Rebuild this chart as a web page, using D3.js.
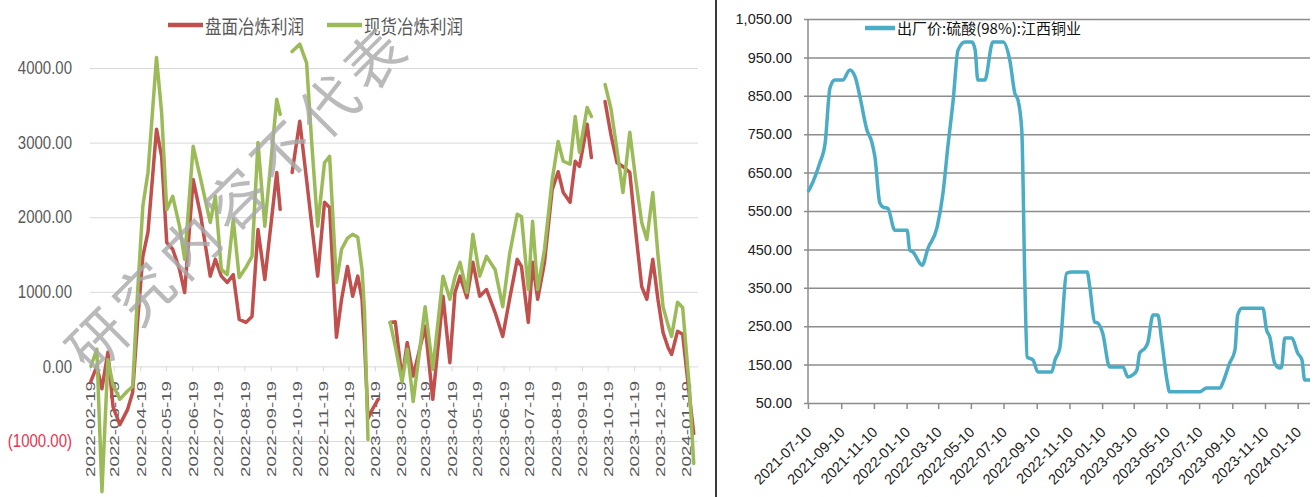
<!DOCTYPE html>
<html><head><meta charset="utf-8">
<script src="https://cdn.jsdelivr.net/npm/d3@7"></script>
<style>html,body{margin:0;padding:0;background:#fff;overflow:hidden}svg{display:block}</style>
</head><body><svg id="c" width="1314" height="497"></svg>
<script>
// ---------- Left chart data: smelting profit ----------
const profitDates = ["2022-02-20","2022-02-27","2022-03-05","2022-03-12","2022-03-18","2022-03-26","2022-04-04","2022-04-10","2022-04-16","2022-04-22","2022-04-28","2022-05-08","2022-05-14","2022-05-20","2022-05-27","2022-06-04","2022-06-10","2022-06-20","2022-06-29","2022-07-10","2022-07-16","2022-07-23","2022-07-30","2022-08-06","2022-08-13","2022-08-21","2022-08-28","2022-09-04","2022-09-12","2022-09-26","2022-09-30","2022-10-07","2022-10-14","2022-10-23","2022-10-31","2022-11-06","2022-11-13","2022-11-21","2022-11-27","2022-12-05","2022-12-11","2022-12-18","2022-12-24","2022-12-30","2023-01-04","2023-01-07","2023-01-11","2023-01-16","2023-01-23","2023-01-30","2023-02-06","2023-02-12","2023-02-20","2023-02-26","2023-03-05","2023-03-19","2023-03-28","2023-04-09","2023-04-17","2023-04-23","2023-04-29","2023-05-07","2023-05-14","2023-05-22","2023-05-30","2023-06-09","2023-06-18","2023-06-26","2023-07-05","2023-07-10","2023-07-18","2023-07-23","2023-07-29","2023-08-06","2023-08-15","2023-08-22","2023-08-28","2023-09-05","2023-09-11","2023-09-16","2023-09-25","2023-09-30","2023-10-08","2023-10-16","2023-10-23","2023-10-30","2023-11-06","2023-11-14","2023-11-21","2023-11-28","2023-12-04","2023-12-11","2023-12-17","2023-12-23","2023-12-29","2024-01-02","2024-01-09","2024-01-15","2024-01-23","2024-01-28"];
const futuresProfit = [-200,0,-300,190,-540,-780,-580,-350,630,1475,1800,3180,2815,1660,1570,1300,990,2505,2010,1210,1435,1210,1125,1230,630,590,670,1835,1165,2600,2105,null,2600,3285,2500,1900,1210,2200,2130,390,900,1340,940,1210,900,300,-700,-580,-440,null,590,600,-170,320,-130,540,-440,940,50,990,1210,920,1395,940,1030,725,400,900,1435,1340,590,1395,900,1395,2370,2610,2330,2200,2750,2680,3245,2800,null,3550,3100,2730,2680,2600,1800,1070,900,1435,900,455,250,160,470,430,-400,-900];
const spotProfit = [0,230,-1680,90,-250,-440,-330,-270,1030,2150,2600,4140,3400,2100,2280,1880,1435,2950,2500,1930,2280,1300,1230,1970,1190,1330,1475,3000,1880,3580,3380,null,4220,4320,4070,3000,1880,2730,2815,1125,1570,1720,1770,1730,1300,725,-980,null,null,null,590,270,-210,230,-470,800,-40,1210,900,1200,1395,990,1770,1210,1475,1300,800,1500,2040,2010,1030,1945,1030,1570,2500,3015,2750,2710,3350,2870,3470,3350,null,3780,3450,2900,2330,3140,2500,1930,1700,2330,1500,800,550,400,860,790,-300,-1300];
const profitTicks = ["2022-02-19","2022-03-19","2022-04-19","2022-05-19","2022-06-19","2022-07-19","2022-08-19","2022-09-19","2022-10-19","2022-11-19","2022-12-19","2023-01-19","2023-02-19","2023-03-19","2023-04-19","2023-05-19","2023-06-19","2023-07-19","2023-08-19","2023-09-19","2023-10-19","2023-11-19","2023-12-19","2024-01-19"];
const profitYTicks = [-1000,0,1000,2000,3000,4000];
const profitSeriesNames = ["盘面冶炼利润","现货冶炼利润"];

// ---------- Right chart data: sulfuric acid price ----------
const acidDates = ["2021-07-10","2021-07-19","2021-08-01","2021-08-11","2021-08-20","2021-08-29","2021-09-13","2021-09-26","2021-10-06","2021-10-15","2021-10-28","2021-11-06","2021-11-12","2021-11-21","2021-11-27","2021-12-06","2021-12-19","2022-01-11","2022-01-16","2022-01-22","2022-02-08","2022-02-19","2022-03-08","2022-03-19","2022-03-28","2022-04-07","2022-04-16","2022-04-29","2022-05-12","2022-05-18","2022-05-23","2022-06-05","2022-06-20","2022-07-09","2022-07-22","2022-07-31","2022-08-06","2022-08-13","2022-08-19","2022-08-23","2022-09-03","2022-09-12","2022-10-08","2022-10-14","2022-10-23","2022-11-05","2022-11-15","2022-12-13","2022-12-18","2022-12-27","2023-01-02","2023-01-11","2023-01-24","2023-02-18","2023-02-27","2023-03-08","2023-03-16","2023-03-21","2023-03-31","2023-04-05","2023-04-15","2023-04-24","2023-05-01","2023-05-11","2023-05-16","2023-07-11","2023-07-24","2023-08-18","2023-08-23","2023-09-05","2023-09-15","2023-09-20","2023-09-28","2023-11-06","2023-11-13","2023-11-19","2023-11-28","2023-12-08","2023-12-11","2023-12-17","2023-12-30","2024-01-10","2024-01-18","2024-01-23","2024-02-02"];
const acidPrice = [600,625,675,727,870,891,891,917,899,847,761,730,690,571,560,557,500,500,448,443,409,453,508,597,717,839,969,990,990,969,891,891,990,990,940,857,839,761,350,170,162,131,131,162,193,388,391,391,352,261,258,232,144,144,118,123,136,180,193,206,279,279,214,110,79,79,89,89,102,154,188,279,297,297,240,222,154,141,144,219,219,180,162,110,110];
const acidTicks = ["2021-07-10","2021-09-10","2021-11-10","2022-01-10","2022-03-10","2022-05-10","2022-07-10","2022-09-10","2022-11-10","2023-01-10","2023-03-10","2023-05-10","2023-07-10","2023-09-10","2023-11-10","2024-01-10"];
const acidYTicks = [50,150,250,350,450,550,650,750,850,950,1050];
const acidSeriesName = "出厂价:硫酸(98%):江西铜业";

const watermarkText = "研究内容不代表";

// ---------- Drawing ----------
const parse = d3.utcParse("%Y-%m-%d");
const fmtDate = d3.utcFormat("%Y-%m-%d");
const svg = d3.select("#c");
svg.append("rect").attr("width",1314).attr("height",497).attr("fill","#fff");
const LAT = "'Liberation Sans', Arial, sans-serif";
const CJK = "'Noto Sans CJK SC', 'Noto Sans', sans-serif";
const RED = "#c0504d", GREEN = "#9bbb59", TEAL = "#4bacc6";

// ===== Left chart =====
const xL = d3.scaleUtc().domain([parse("2022-02-19"), parse("2024-02-02")]).range([90, 698]);
const yL = d3.scaleLinear().domain([-1000, 4000]).range([441, 68]);
const gL = svg.append("g");

const fmtL = v => v < 0 ? "(" + d3.format(".2f")(-v) + ")" : d3.format(".2f")(v);
const yAxL = gL.append("g").attr("transform","translate(90,0)")
  .call(d3.axisLeft(yL).tickValues(profitYTicks).tickSize(-608).tickPadding(18).tickFormat(fmtL));
yAxL.select(".domain").remove();
yAxL.selectAll(".tick line").attr("stroke","#d9d9d9").attr("stroke-width",1);
yAxL.selectAll(".tick text").attr("font-family",LAT).attr("font-size",15)
  .attr("fill", d => d < 0 ? "#e8334f" : "#595959")
  .attr("transform","scale(1,1.2)");

const xAxL = gL.append("g").attr("transform","translate(0," + yL(0) + ")")
  .call(d3.axisBottom(xL).tickValues(profitTicks.map(parse)).tickSize(5).tickFormat(fmtDate));
xAxL.select(".domain").remove();
xAxL.selectAll(".tick line").attr("stroke","#d9d9d9");
xAxL.selectAll(".tick text")
  .attr("font-family",LAT).attr("font-size",13.5).attr("fill","#595959")
  .attr("text-anchor","start").attr("x",-(477 - yL(0))).attr("y",0).attr("dy","0.35em")
  .attr("transform","rotate(-90)")
  .attr("textLength",96).attr("lengthAdjust","spacingAndGlyphs");

const leftRows = profitDates.map((d,i)=>({date:parse(d), red:futuresProfit[i], green:spotProfit[i]}));
const mkLineL = key => d3.line().defined(d => d[key] !== null).x(d => xL(d.date)).y(d => yL(d[key]));
gL.append("path").datum(leftRows).attr("d", mkLineL("red")).attr("fill","none")
  .attr("stroke",RED).attr("stroke-width",3.5).attr("stroke-linejoin","round").attr("stroke-linecap","round");
gL.append("path").datum(leftRows).attr("d", mkLineL("green")).attr("fill","none")
  .attr("stroke",GREEN).attr("stroke-width",3.5).attr("stroke-linejoin","round").attr("stroke-linecap","round");

// legend
const legL = [{name:profitSeriesNames[0], color:RED, x:168},{name:profitSeriesNames[1], color:GREEN, x:327}];
legL.forEach(l => {
  gL.append("line").attr("x1",l.x).attr("x2",l.x+35).attr("y1",25).attr("y2",25)
    .attr("stroke",l.color).attr("stroke-width",4.5);
  gL.append("text").attr("transform","translate(" + (l.x+37) + ",25) scale(1,1.2)")
    .attr("dominant-baseline","central").attr("font-family",CJK).attr("font-size",16.5)
    .attr("fill","#595959").text(l.name);
});

// watermark
const wm = svg.append("g").attr("fill","#a9a9a9").attr("opacity",0.8);
Array.from(watermarkText).forEach((ch,i) => {
  wm.append("text").attr("transform","translate(" + (95 + 46.2*i) + "," + (338 - 46.8*i) + ") rotate(-45)")
    .attr("text-anchor","middle").attr("dominant-baseline","central")
    .attr("font-family",CJK).attr("font-size",58).text(ch);
});

// separator
svg.append("line").attr("x1",716).attr("x2",716).attr("y1",0).attr("y2",497)
  .attr("stroke","#3a3a3a").attr("stroke-width",2);

// ===== Right chart =====
const xR = d3.scaleUtc().domain([parse("2021-07-10"), parse("2024-02-02")]).range([808, 1310]);
const yR = d3.scaleLinear().domain([50, 1050]).range([403, 19]);
const gR = svg.append("g");

const yAxR = gR.append("g").attr("transform","translate(804,0)")
  .call(d3.axisLeft(yR).tickValues(acidYTicks).tickSize(-506).tickPadding(12).tickFormat(d3.format(",.2f")));
yAxR.select(".domain").remove();
yAxR.selectAll(".tick line").attr("stroke","#8c8c8c").attr("stroke-width",1.5);
yAxR.selectAll(".tick text").attr("font-family",LAT).attr("font-size",14.5).attr("fill","#222");

gR.append("line").attr("x1",808).attr("x2",808).attr("y1",yR(1050)).attr("y2",yR(50))
  .attr("stroke","#8c8c8c").attr("stroke-width",1.5);

const xAxR = gR.append("g").attr("transform","translate(0," + yR(50) + ")")
  .call(d3.axisBottom(xR).tickValues(acidTicks.map(parse)).tickSize(6).tickFormat(fmtDate));
xAxR.select(".domain").remove();
xAxR.selectAll(".tick line").attr("stroke","#8c8c8c").attr("stroke-width",1.5);
xAxR.selectAll(".tick text").attr("font-family",LAT).attr("font-size",14.5).attr("fill","#222")
  .attr("text-anchor","end").attr("x",0).attr("y",0).attr("dy",0)
  .attr("transform","translate(4,30) rotate(-45)");

const rightRows = acidDates.map((d,i)=>({date:parse(d), v:acidPrice[i]}));
gR.append("path").datum(rightRows)
  .attr("d", d3.line().curve(d3.curveMonotoneX).x(d=>xR(d.date)).y(d=>yR(d.v)))
  .attr("fill","none").attr("stroke",TEAL).attr("stroke-width",3.5).attr("stroke-linejoin","round");

gR.append("line").attr("x1",865).attr("x2",895).attr("y1",28).attr("y2",28)
  .attr("stroke",TEAL).attr("stroke-width",4.5);
gR.append("text").attr("x",897).attr("y",27).attr("dominant-baseline","central")
  .attr("font-family",CJK).attr("font-size",15).attr("fill","#111").text(acidSeriesName);
</script>
</body></html>
